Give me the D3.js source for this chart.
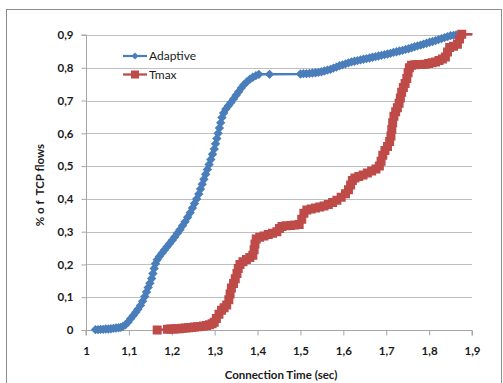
<!DOCTYPE html>
<html>
<head>
<meta charset="utf-8">
<script src="https://cdn.jsdelivr.net/npm/d3@7"></script>
<style>
  html, body { margin: 0; padding: 0; background: #fff; }
  svg { display: block; }
  text { font-family: Lato, "Open Sans", sans-serif; fill: #1a1a1a; }
</style>
</head>
<body>
<svg id="chart" width="503" height="383"></svg>
<script>
// CDF of connection times for the two schemes: [time (sec), fraction of TCP flows]
const adaptive = [
  [1.022,0.001],[1.028,0.001],[1.034,0.002],[1.040,0.002],[1.046,0.003],[1.052,0.003],
  [1.058,0.004],[1.064,0.005],[1.070,0.006],[1.076,0.007],[1.081,0.008],[1.086,0.011],
  [1.092,0.016],[1.098,0.024],[1.104,0.034],[1.110,0.044],[1.116,0.054],
  [1.121,0.063],[1.127,0.075],[1.132,0.088],[1.137,0.102],[1.141,0.116],[1.145,0.130],
  [1.149,0.143],[1.153,0.157],[1.156,0.172],[1.159,0.188],[1.162,0.202],[1.166,0.214],
  [1.171,0.224],[1.177,0.234],[1.183,0.244],[1.189,0.254],[1.195,0.264],[1.201,0.274],
  [1.207,0.284],[1.213,0.295],[1.219,0.306],[1.225,0.318],[1.231,0.330],[1.237,0.344],
  [1.243,0.358],[1.248,0.372],[1.253,0.386],[1.258,0.400],[1.263,0.415],[1.267,0.430],
  [1.271,0.445],[1.275,0.460],[1.279,0.475],[1.283,0.490],[1.287,0.505],[1.291,0.520],
  [1.295,0.536],[1.299,0.552],[1.302,0.568],[1.305,0.584],[1.308,0.600],[1.311,0.616],
  [1.314,0.632],[1.317,0.648],[1.321,0.662],[1.326,0.674],[1.332,0.684],[1.338,0.694],
  [1.344,0.705],[1.350,0.716],[1.356,0.727],[1.362,0.738],[1.368,0.748],[1.375,0.757],
  [1.382,0.765],[1.389,0.771],[1.396,0.776],[1.403,0.780],[1.428,0.780],
  [1.500,0.781],[1.507,0.782],[1.514,0.782],[1.521,0.783],[1.528,0.784],[1.535,0.785],
  [1.542,0.786],[1.549,0.788],[1.556,0.790],[1.563,0.793],[1.570,0.795],[1.577,0.799],
  [1.584,0.802],[1.591,0.806],[1.598,0.809],[1.605,0.812],[1.612,0.815],[1.619,0.818],
  [1.626,0.820],[1.633,0.822],[1.640,0.824],[1.647,0.826],[1.654,0.828],[1.661,0.830],
  [1.668,0.832],[1.675,0.834],[1.682,0.836],[1.689,0.838],[1.696,0.840],[1.703,0.842],
  [1.710,0.844],[1.717,0.847],[1.724,0.849],[1.731,0.851],[1.738,0.853],[1.745,0.856],
  [1.752,0.858],[1.759,0.861],[1.766,0.864],[1.773,0.867],[1.780,0.869],[1.787,0.872],
  [1.794,0.875],[1.801,0.878],[1.808,0.880],[1.815,0.883],[1.822,0.886],[1.829,0.889],
  [1.836,0.892],[1.843,0.895],[1.850,0.898],[1.857,0.899],[1.863,0.900]
];

const tmax = [
  [1.166,0.000],
  [1.190,0.002],[1.197,0.003],[1.204,0.003],[1.211,0.004],[1.218,0.004],[1.225,0.005],
  [1.232,0.006],[1.239,0.007],[1.246,0.008],[1.253,0.009],[1.260,0.010],[1.267,0.011],
  [1.274,0.012],[1.281,0.014],[1.288,0.016],[1.294,0.019],[1.299,0.024],
  [1.304,0.035],[1.310,0.048],[1.316,0.060],[1.322,0.068],[1.328,0.076],[1.333,0.092],
  [1.336,0.110],[1.339,0.128],[1.344,0.142],[1.348,0.156],[1.352,0.172],[1.355,0.188],
  [1.359,0.200],[1.366,0.208],[1.374,0.215],[1.382,0.221],[1.389,0.228],[1.392,0.245],
  [1.394,0.262],[1.397,0.278],[1.405,0.283],[1.415,0.287],[1.425,0.291],[1.435,0.295],
  [1.445,0.300],[1.451,0.310],[1.457,0.316],[1.467,0.318],[1.477,0.319],[1.487,0.320],
  [1.497,0.322],[1.503,0.338],[1.508,0.356],[1.515,0.366],[1.525,0.369],[1.535,0.372],
  [1.545,0.375],[1.555,0.378],[1.565,0.383],[1.575,0.389],[1.585,0.396],[1.595,0.405],
  [1.605,0.416],[1.612,0.428],[1.617,0.442],[1.621,0.456],[1.627,0.464],[1.636,0.468],
  [1.646,0.473],[1.656,0.479],[1.666,0.485],[1.676,0.491],[1.684,0.500],[1.688,0.515],
  [1.692,0.533],[1.697,0.548],[1.703,0.560],[1.708,0.575],[1.711,0.592],[1.713,0.612],
  [1.715,0.632],[1.718,0.652],[1.722,0.666],[1.726,0.678],[1.730,0.692],[1.733,0.708],
  [1.736,0.725],[1.740,0.740],[1.744,0.752],[1.748,0.767],[1.751,0.785],[1.754,0.800],
  [1.759,0.808],[1.767,0.809],[1.775,0.810],[1.783,0.810],[1.791,0.811],[1.799,0.813],
  [1.807,0.815],[1.815,0.818],[1.823,0.822],[1.831,0.827],[1.838,0.833],[1.843,0.848],
  [1.848,0.862],[1.857,0.866],[1.866,0.872],[1.871,0.888],[1.876,0.902],[1.920,0.902]
];

const xTicks = [1, 1.1, 1.2, 1.3, 1.4, 1.5, 1.6, 1.7, 1.8, 1.9];
const xTickLabels = ["1", "1,1", "1,2", "1,3", "1,4", "1,5", "1,6", "1,7", "1,8", "1,9"];
const yTicks = [0, 0.1, 0.2, 0.3, 0.4, 0.5, 0.6, 0.7, 0.8, 0.9];
const yTickLabels = ["0", "0,1", "0,2", "0,3", "0,4", "0,5", "0,6", "0,7", "0,8", "0,9"];

const seriesNames = ["Adaptive", "Tmax"];
const seriesColors = ["#4a7ebb", "#be4b48"];

const svg = d3.select("#chart");

// outer chart frame
svg.append("rect")
  .attr("x", 6.5).attr("y", 9.5)
  .attr("width", 495).attr("height", 390)
  .attr("fill", "none").attr("stroke", "#8c8c8c").attr("stroke-width", 1);

const x = d3.scaleLinear().domain([1, 1.9]).range([86, 472]);
const y = d3.scaleLinear().domain([0, 0.9]).range([330, 35]);

// horizontal gridlines
svg.append("g")
  .selectAll("line")
  .data(yTicks.slice(1))
  .join("line")
  .attr("x1", x(1)).attr("x2", x(1.9))
  .attr("y1", d => Math.round(y(d)) + 0.5).attr("y2", d => Math.round(y(d)) + 0.5)
  .attr("stroke", "#bfbfbf").attr("stroke-width", 1);

// axes
const yAxis = d3.axisLeft(y).tickValues(yTicks)
  .tickFormat((d, i) => yTickLabels[i]).tickSize(5).tickPadding(8);
const xAxis = d3.axisBottom(x).tickValues(xTicks)
  .tickFormat((d, i) => xTickLabels[i]).tickSize(5).tickPadding(11);

const gy = svg.append("g").attr("transform", "translate(86.5,0)").call(yAxis);
const gx = svg.append("g").attr("transform", "translate(0,330.5)").call(xAxis);

[gx, gy].forEach(g => {
  g.selectAll("path, line").attr("stroke", "#a6a6a6");
  g.selectAll("text")
    .style("font-family", "Lato, 'Open Sans', sans-serif")
    .style("font-size", "11.5px")
    .style("font-weight", "bold")
    .attr("fill", "#1a1a1a");
});
gy.select(".domain").attr("d", `M-5,${y(0.9)}H0V${y(0)}`);
gx.select(".domain").attr("d", `M${x(1)},5V0H${x(1.9)}V5`);

// axis titles
svg.append("text")
  .attr("x", 281).attr("y", 379)
  .attr("text-anchor", "middle")
  .style("font-size", "11.5px").style("font-weight", "bold")
  .text("Connection Time (sec)");

svg.append("text")
  .attr("transform", "translate(44,185) rotate(-90)")
  .attr("text-anchor", "middle")
  .style("font-size", "11.5px").style("font-weight", "bold")
  .style("white-space", "pre")
  .text("% o f  TCP flows");

// series
svg.append("defs").append("clipPath").attr("id", "plotclip")
  .append("rect").attr("x", 0).attr("y", 0).attr("width", 472.5).attr("height", 383);

const line = d3.line().x(d => x(d[0])).y(d => y(d[1]));

// square rotated 45 degrees, equal width and height
const rhombus = {
  draw(ctx, size) {
    const r = Math.sqrt(size / 2);
    ctx.moveTo(0, -r); ctx.lineTo(r, 0); ctx.lineTo(0, r); ctx.lineTo(-r, 0); ctx.closePath();
  }
};
const diamond = d3.symbol().type(rhombus).size(44);
const square = d3.symbol().type(d3.symbolSquare).size(81);

const plot = svg.append("g").attr("clip-path", "url(#plotclip)");

[adaptive, tmax].forEach((data, k) => {
  const g = plot.append("g");
  g.append("path").datum(data)
    .attr("d", line)
    .attr("fill", "none")
    .attr("stroke", seriesColors[k])
    .attr("stroke-width", 2.5);
  g.selectAll("path.mk")
    .data(data)
    .join("path")
    .attr("class", "mk")
    .attr("transform", d => `translate(${x(d[0])},${y(d[1])})`)
    .attr("d", k === 0 ? diamond() : square())
    .attr("fill", seriesColors[k]);
});

// legend
const legend = svg.append("g");
seriesNames.forEach((name, k) => {
  const ly = 56 + k * 18.5;
  legend.append("line")
    .attr("x1", 123).attr("x2", 147).attr("y1", ly).attr("y2", ly)
    .attr("stroke", seriesColors[k]).attr("stroke-width", 2.25);
  legend.append("path")
    .attr("transform", `translate(135,${ly})`)
    .attr("d", k === 0 ? d3.symbol().type(rhombus).size(24)() : d3.symbol().type(d3.symbolSquare).size(64)())
    .attr("fill", seriesColors[k]);
  legend.append("text")
    .attr("x", 149).attr("y", ly + 4)
    .style("font-size", "12px")
    .text(name);
});
</script>
</body>
</html>
